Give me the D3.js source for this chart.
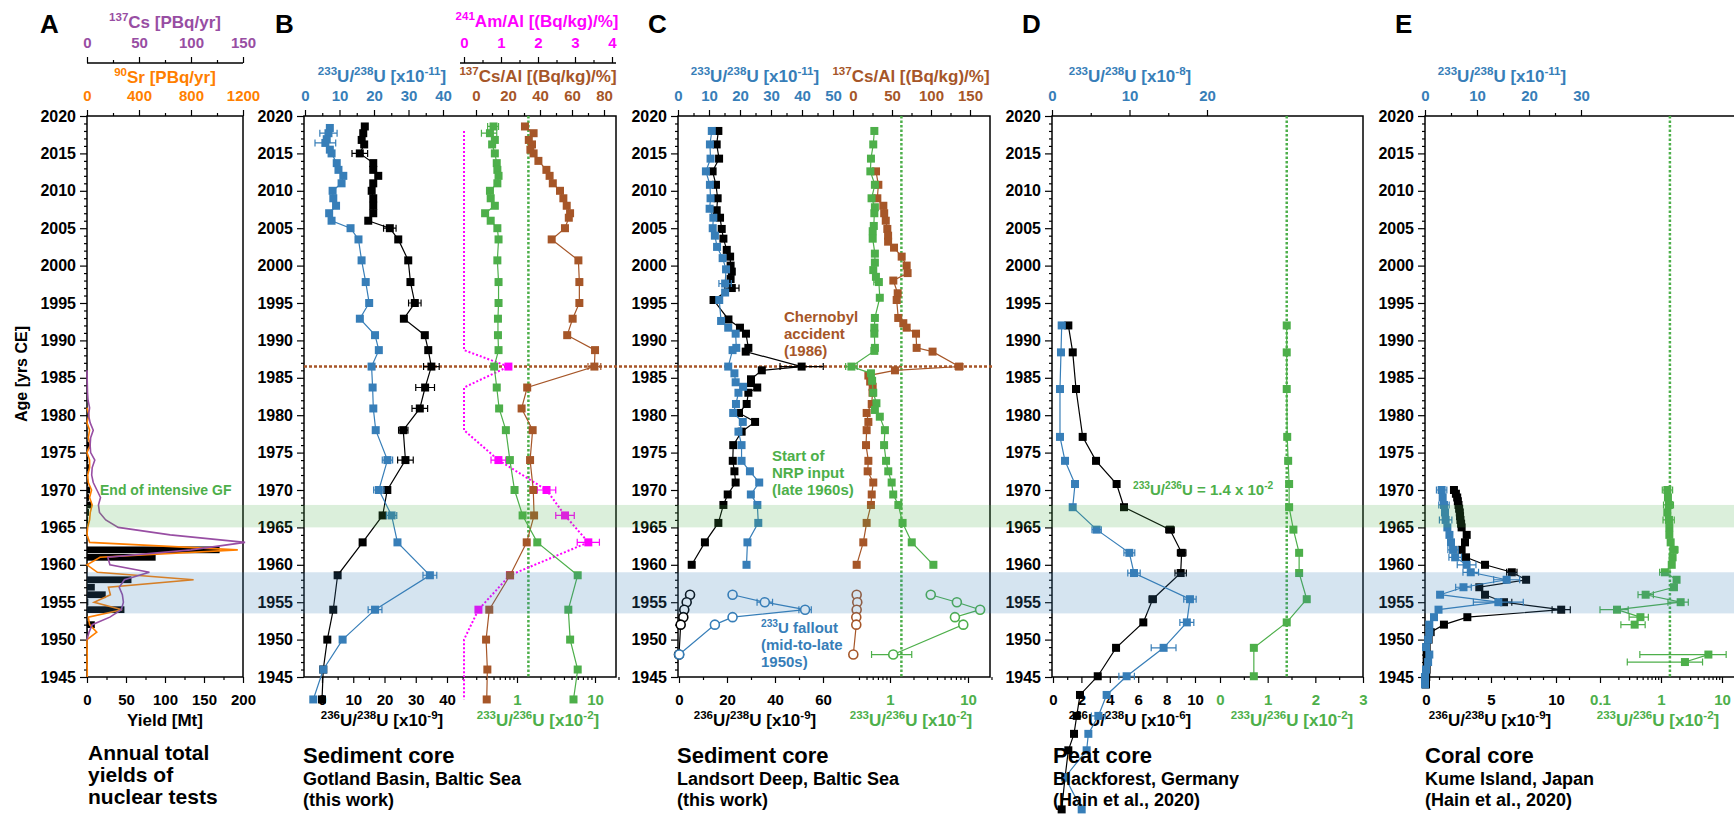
<!DOCTYPE html>
<html>
<head>
<meta charset="utf-8">
<script src="https://cdn.jsdelivr.net/npm/d3@7"></script>
<style>
  body { margin: 0; background: #fff; }
  svg { display: block; font-family: 'Liberation Sans', Arial, sans-serif; font-weight: bold; }
</style>
</head>
<body>
<svg id="chart" width="1734" height="814"></svg>
<script>
// ---- panel A: annual yields and production [year, value]
const aYield = [[1945,0.04],[1946,0.04],[1948,0.1],[1949,0.02],[1951,0.6],[1952,10],[1953,0.3],[1954,48],[1955,1.7],[1956,24],[1957,10],[1958,57],[1961,88],[1962,170],[1964,0.02],[1965,0.04],[1966,1.4],[1967,2.5],[1968,6],[1969,2.5],[1970,4],[1971,1.5],[1972,0.4],[1973,2.7],[1974,1.5],[1976,4],[1977,0.02],[1978,0.04],[1980,0.7]];
const aSr = [[1945,2],[1946,2],[1947,0],[1948,2],[1949,0],[1950,0],[1951,75],[1952,20],[1953,10],[1954,270],[1955,55],[1956,180],[1957,165],[1958,820],[1959,80],[1960,0],[1961,100],[1962,1160],[1963,20],[1964,0],[1965,5],[1966,20],[1967,25],[1968,40],[1969,20],[1970,35],[1971,10],[1972,5],[1973,20],[1974,20],[1975,0],[1976,25],[1977,10],[1978,20],[1979,0],[1980,15],[1981,0]];
const aCs = [[1950,0],[1951,2],[1952,5],[1953,22],[1954,33],[1955,35],[1956,34],[1957,31],[1958,36],[1959,60],[1960,22],[1961,20],[1962,100],[1963,152],[1964,80],[1965,30],[1966,18],[1967,12],[1968,11],[1969,13],[1970,9.5],[1971,6],[1972,4.5],[1973,5],[1974,7.5],[1975,3.5],[1976,3],[1977,3.5],[1978,6],[1979,3],[1980,1.5],[1981,2.5],[1982,1],[1983,0.5],[1986,0]];

// ---- panel B: Gotland Basin [year, value, error]
const bU236 = [[2018.6,13.7],[2017.7,13.2],[2016.8,12.7],[2016.2,13.5],[2015,12.1,2.5],[2013.7,16.4],[2012.8,16.4],[2012,18],[2011,16.4],[2010,15.9],[2009,16.4],[2008,16.4],[2007,16.4],[2006,14.8],[2005,21.7,2],[2003.5,24.4],[2000.7,27.6],[1997.8,28.3],[1995,29.7,2],[1992.9,26.2],[1990.7,32.9],[1988.7,34],[1986.5,35,2.5],[1983.7,33,3],[1980.9,31.3,2.5],[1978,26,1.5],[1974,26.7,2.5],[1970,20.9],[1966.6,19.4],[1963,13],[1958.6,5],[1954,3.6],[1950,1.7],[1946,0.4],[1942,0]];
const bU233 = [[2018.4,7.2],[2017.7,6.8,2.5],[2016.9,6.3],[2016.4,5.9,3],[2015.5,7.2],[2015,7.7],[2013.7,9.2],[2012.8,9.7],[2012,11.1],[2011,10.6],[2010,8],[2009,8.2],[2008,9],[2007,7],[2006,7.7],[2005,13.2],[2003.5,15.5],[2000.7,16.4],[1997.8,17.6],[1995,18.6],[1992.9,15.9],[1990.7,20.3],[1988.7,21.4],[1986.5,19.3],[1983.7,19.6],[1980.9,19.8],[1978,20.5],[1974,23.9,1.5],[1970,21.4,1.5],[1966.6,25.1,1.5],[1963,26.8],[1958.6,36.2,2],[1954,20.3,2],[1950,10.9],[1946,5.3],[1942,2.4]];
const bRatio = [[2018.6,0.5,0.08],[2017.7,0.45,0.1],[2016.8,0.52],[2016.2,0.48],[2015,0.52],[2013.7,0.55],[2012.8,0.56],[2012,0.58],[2011,0.56],[2010,0.45],[2009,0.46],[2008,0.52],[2007,0.39],[2006,0.46],[2005,0.56],[2003.5,0.58],[2000.7,0.56],[1997.8,0.58],[1995,0.58],[1992.9,0.57],[1990.7,0.57],[1988.7,0.58],[1986.5,0.51],[1983.7,0.55],[1980.9,0.59],[1978,0.72],[1974,0.81],[1970,0.93],[1966.6,1.18],[1963,1.82],[1958.6,6.0],[1954,4.55],[1950,4.8],[1946,6.0],[1942,5.3]];
const bCs = [[2018.6,30.6],[2017.7,36],[2016.8,33],[2016.2,35],[2015.5,34],[2015,36],[2014,39],[2012.8,44],[2012,46],[2011,48],[2010,52.5],[2009,54.6],[2008,56.7],[2007,58.8],[2006.4,58],[2005,55.6],[2003.5,47.3],[2000.7,64],[1997.8,64.6],[1995,64.6],[1992.9,60.4],[1990.7,57],[1988.7,74.4],[1986.5,74,4],[1983.7,32],[1980.9,28.5],[1978,35.4],[1974,33.8],[1970,35.8],[1966.6,36.3],[1963,31.7],[1958.6,21.3],[1954,8.3],[1950,6.3],[1946,7.1],[1942,6.7]];
const bAm = [[2018,0],[1988.7,0],[1986.5,1.2],[1983.7,0],[1978,0],[1974,0.93,0.2],[1970,2.23,0.25],[1966.6,2.73,0.25],[1963,3.36,0.3],[1958.6,1.24],[1954,0.39],[1950,0],[1942,0]];

// ---- panel C: Landsort Deep
const cU236 = [[2018,16.4],[2016.2,15.7],[2014.3,16.7],[2012.6,14],[2010.8,15.4],[2009,16.1],[2007.4,15.7],[2006.4,17.1],[2004.9,17.8],[2003.6,18.5],[2002.1,19.9],[2001.2,21.3],[2000,21.5],[1999.2,22],[1998.2,21.5],[1997,22,3],[1995.4,14.4],[1992.8,20.6],[1991.7,25.4],[1990.9,27.9],[1989,28.9],[1988.5,27.8],[1986.5,51.1,9],[1986,34.5],[1984.8,30],[1984.3,30],[1983.7,32.6],[1983,28.9],[1981.5,28.2],[1980.3,25],[1979.1,31.7],[1977.8,26.1],[1976,22.6],[1973.9,22.4],[1972.5,23.1],[1971,23.6],[1969.4,20.3],[1968,18.5],[1965.6,16.4],[1963,10.8],[1960,5.3]];
const cU236Old = [[1956,4.6],[1955,3.2],[1954,2.2],[1953,1.8],[1952,0.7],[1948,0]];
const cU233 = [[2018,10.9],[2016.2,10.3],[2014.3,10.5],[2012.6,9],[2010.8,10.3],[2009,10.5],[2007.6,10.2],[2006.4,11.4],[2005,11.2],[2004,11.9],[2002.5,12.6],[2001,14.4],[1999.5,15.5],[1997.6,15.2,2],[1996.4,15.2],[1995.4,13.3],[1992.6,13.9],[1991.7,16.2],[1990.9,18.6],[1989,18.8],[1988.7,17.6],[1986.5,16.2],[1985.6,18.2],[1984.4,18.6],[1983.8,21],[1983,19.5],[1981.5,18.7],[1980.3,17.8],[1979.1,20.9],[1977.8,19.5],[1976,20.5],[1973.9,20.5],[1972.5,23.2],[1971,26.2],[1969.4,23.5],[1968,25.6],[1965.6,25.9],[1963,22.4],[1960,22.1]];
const cU233Old = [[1956,17.6],[1955,28,2.5],[1954,41,2],[1953,17.6],[1952,11.9],[1948,0.4]];
const cCs = [[2012.6,29.5],[2010.8,32.5],[2009,31.2],[2008,38.9],[2007,40],[2006,42],[2004.9,44],[2004,45],[2003.2,45],[2002.4,52.6],[2001.2,62.4],[2000,68.8],[1999,70],[1998,51.7],[1996.3,57.3],[1995.4,56],[1993,58],[1992.3,64.5],[1991.7,68.8],[1990.9,80.8],[1989,81.6],[1988.5,102],[1986.5,136,5],[1986,53.8],[1985.3,19.7],[1984.5,22],[1983.8,25.2],[1983,25],[1981.5,24],[1980.3,17.5],[1979.1,19.7],[1978,17.5],[1976,16.7],[1973.9,19.7],[1972.5,18.8],[1971,26],[1969.4,24],[1968,23],[1965.6,17.5],[1963,13.2],[1960,4.7]];
const cCsOld = [[1956,4.7],[1955,5.5],[1954,4.7],[1953,4.2],[1952,4.2],[1948,0.4]];
const cRatio = [[2018,0.63],[2016.2,0.61],[2014.3,0.57],[2012.6,0.56],[2010.8,0.64],[2009,0.58],[2007.8,0.64],[2007,0.63],[2005.3,0.62],[2004.6,0.6],[2003.6,0.6],[2001.6,0.64],[2000.4,0.64],[1999.4,0.61],[1998.5,0.66],[1997.8,0.72,[0.62,0.76]],[1995.7,0.74],[1993,0.64],[1991.7,0.63],[1990.9,0.63],[1989,0.64],[1988.6,0.63],[1986.5,0.32,[0.27,0.38]],[1985.6,0.57],[1984.6,0.59],[1983,0.61],[1981.6,0.67],[1980.7,0.64],[1979.8,0.74],[1978,0.86],[1976,0.84],[1973.9,0.89],[1972.5,0.95],[1971,1.05],[1969.4,1.1],[1968,1.28],[1965.6,1.45],[1963,1.9],[1960,3.6]];
const cRatioOld = [[1956,3.33],[1955,7.2],[1954,14.3],[1953,6.8],[1952,8.7],[1948,1.1,[0.58,1.9]]];

// ---- panel D: peat core
const dU236 = [[1992,1.08],[1988.4,1.39],[1983.5,1.62],[1977.1,2.09],[1973.9,3.03],[1970.8,4.48],[1967.7,5.0],[1964.7,8.24,0.3],[1961.6,9.06,0.3],[1958.9,8.99,0.4],[1955.4,7.02,0.25],[1952.3,6.36],[1948.9,4.44],[1945.1,3.15],[1942.6,1.9],[1939.8,1.67],[1937.4,1.48],[1935.2,1.08],[1931.6,0.85],[1927.3,0.61]];
const dU233 = [[1992,1.25,0.4],[1988.4,1.16],[1983.5,1.03],[1977.1,1.03],[1973.9,1.68],[1970.8,2.97],[1967.7,2.67],[1964.7,5.76,0.6],[1961.6,9.98,0.7],[1958.9,10.58,0.8],[1955.4,17.8,0.8],[1952.3,17.4,0.9],[1948.9,14.4,1.6],[1945.1,9.63,1.0],[1942.6,7.05],[1939.8,5.98,0.9],[1937.4,4.69],[1935.2,4.47],[1931.6,1.68],[1927.3,3.83]];
const dRatio = [[1992,1.4],[1988.4,1.4],[1983.5,1.4],[1977.1,1.41],[1973.9,1.43],[1970.8,1.45],[1967.7,1.45],[1964.7,1.54],[1961.6,1.66],[1958.9,1.66],[1955.4,1.82],[1952.3,1.4],[1948.9,0.71],[1945.1,0.71]];

// ---- panel E: coral core
const eU236 = [[1970,2.15],[1969.5,2.3],[1969,2.4],[1968.5,2.45],[1968,2.5],[1967.5,2.55],[1967,2.6],[1966.5,2.62],[1966,2.65],[1965.5,2.7],[1965,2.74],[1964,3.13],[1963,3.0],[1962,2.74],[1961,3.08],[1960,4.54],[1959,6.6,0.4],[1958,7.7],[1957,4.1],[1956,4.54],[1955,6.0,0.6],[1954,10.4,0.7],[1953,3.18],[1952,1.38],[1951,0.36],[1950,0.2],[1949,0.05],[1948,0.05],[1947,0.05],[1946,0.05],[1945,0.02],[1944,0]];
const eU233 = [[1970,3.2,1],[1969,3.4],[1968,3.65,1],[1967,3.85],[1966,3.97,1.2],[1965,4.3],[1964,4.7],[1963,5.0],[1962,5.4,1],[1961,5.8,1.2],[1960,8.0,1.8],[1959,8.8,1.5],[1958,15.7,2.5],[1957,7.4,1.5],[1956,2.9],[1955,14.1,4.8],[1954,2.6],[1953,1.73],[1952,0.83],[1951,0.83],[1950,0.6],[1949,0.2],[1948,0.83],[1947,0.6],[1946,0.2],[1945,0],[1944,0]];
const eRatio = [[1970,1.27,[1.05,1.55]],[1969,1.3],[1968,1.35,[1.1,1.6]],[1967,1.27],[1966,1.35,[1.08,1.65]],[1965,1.37],[1964,1.37],[1963,1.44],[1962,1.63,[1.4,1.9]],[1961,1.55],[1960,1.5],[1959,1.16,[0.95,1.4]],[1958,1.8],[1957,1.63],[1956,0.56,[0.42,0.75]],[1955,2.1,[1.3,2.8]],[1954,0.19,[0.1,0.29]],[1953,0.46,[0.3,0.62]],[1952,0.37,[0.22,0.55]]];
const eRatioEarly = [[1948,5.98,[0.45,11.7]],[1947,2.47,[0.28,4.8]]];

const yearTicks = d3.range(1945, 2021, 5);
const yearMinor = d3.range(1945, 2021).filter((v) => v % 5);

const BLUE = '#377eb8', GREEN = '#4daf4a', BROWN = '#a65628', MAG = '#ff00ff';
const PURPLE = '#984ea3', ORANGE = '#ff7f00', BLACK = '#000';
const FONT = "'Liberation Sans', Arial, sans-serif";

const svg = d3.select('#chart');
const TOP = 116, BOT = 677;
const y = d3.scaleLinear().domain([1945, 2020]).range([BOT, TOP]);

// plot frames (left, right)
const fr = { A: [87, 243], B: [304, 616], C: [678, 990], D: [1052, 1363], E: [1425, 1737] };

// scales
const xYield = d3.scaleLinear().domain([0, 200]).range([87, 243]);
const xSr = d3.scaleLinear().domain([0, 1200]).range([87, 243]);
const xCsA = d3.scaleLinear().domain([0, 150]).range([87, 243]);

const xB233 = d3.scaleLinear().domain([0, 40]).range([305, 443]);
const xB236 = d3.scaleLinear().domain([0, 40]).range([322, 447]);
const xBCs = d3.scaleLinear().domain([0, 80]).range([476, 604]);
const xBAm = d3.scaleLinear().domain([0, 4]).range([464, 612]);
const xBR = d3.scaleLog().domain([1, 10]).range([517, 595]);

const xC233 = d3.scaleLinear().domain([0, 50]).range([678, 833]);
const xC236 = d3.scaleLinear().domain([0, 60]).range([679, 823]);
const xCCs = d3.scaleLinear().domain([0, 150]).range([853, 970]);
const xCR = d3.scaleLog().domain([1, 10]).range([890, 968]);

const xD233 = d3.scaleLinear().domain([0, 20]).range([1052, 1207]);
const xD236 = d3.scaleLinear().domain([0, 10]).range([1053, 1195]);
const xDR = d3.scaleLinear().domain([0, 3]).range([1220, 1363]);

const xE233 = d3.scaleLinear().domain([0, 30]).range([1425, 1581]);
const xE236 = d3.scaleLinear().domain([0, 10]).range([1426, 1556]);
const xER = d3.scaleLog().domain([1, 10]).range([1661, 1722]);

svg.append('rect').attr('width', 1734).attr('height', 814).attr('fill', '#fff');

// text with ^{..} superscripts
function rich(t, str, size) {
  const parts = str.split(/(\^\{[^}]*\})/).filter(Boolean);
  const sh = size * 0.4;
  let up = false;
  parts.forEach((p) => {
    if (p.startsWith('^{')) {
      t.append('tspan').attr('font-size', size * 0.68).attr('dy', up ? 0 : -sh).text(p.slice(2, -1));
      up = true;
    } else {
      t.append('tspan').attr('dy', up ? sh : 0).text(p);
      up = false;
    }
  });
}

function label(x, yy, str, size, color, anchor = 'start') {
  const t = svg.append('text')
    .attr('x', x).attr('y', yy)
    .attr('font-size', size)
    .attr('fill', color)
    .attr('text-anchor', anchor);
  rich(t, str, size);
  return t;
}

function hAxis(scale, pos, dir, majors, minors, color) {
  const make = dir === 'top' ? d3.axisTop : d3.axisBottom;
  const g = svg.append('g').attr('transform', `translate(0,${pos})`);
  g.append('g').call(make(scale).tickValues(minors).tickSize(3).tickFormat(''));
  const gm = g.append('g')
    .call(make(scale).tickValues(majors).tickSize(6).tickPadding(dir === 'top' ? 9 : 11).tickFormat((d) => d));
  g.selectAll('.domain').remove();
  g.selectAll('.tick line').attr('stroke', '#000').attr('stroke-width', 1.2);
  gm.attr('font-size', 15).attr('font-family', FONT);
  gm.selectAll('text').attr('fill', color).attr('font-weight', 'bold');
}

function yAxis(x) {
  const g = svg.append('g').attr('transform', `translate(${x},0)`);
  g.append('g').call(d3.axisLeft(y).tickValues(yearMinor).tickSize(3).tickFormat(''));
  const gm = g.append('g').call(d3.axisLeft(y).tickValues(yearTicks).tickSize(7).tickPadding(4).tickFormat(d3.format('d')));
  g.selectAll('.domain').remove();
  g.selectAll('.tick line').attr('stroke', '#000').attr('stroke-width', 1.2);
  gm.attr('font-size', 16).attr('font-family', FONT);
  gm.selectAll('text').attr('fill', '#000').attr('font-weight', 'bold');
}

function series(data, xs, color, o = {}) {
  const g = svg.append('g');
  const line = d3.line().x((d) => xs(d[1])).y((d) => y(d[0]));
  if (o.line !== false) {
    g.append('path').datum(data).attr('d', line)
      .attr('fill', 'none').attr('stroke', color)
      .attr('stroke-width', o.lw || 1.2)
      .attr('stroke-dasharray', o.dash || null);
  }
  data.filter((d) => d[2] != null).forEach((d) => {
    let [lo, hi] = Array.isArray(d[2]) ? d[2] : [d[1] - d[2], d[1] + d[2]];
    if (o.log) lo = Math.max(lo, 0.01);
    const yy = y(d[0]), x1 = xs(lo), x2 = xs(hi);
    g.append('path')
      .attr('d', `M${x1},${yy}H${x2}M${x1},${yy - 3.5}V${yy + 3.5}M${x2},${yy - 3.5}V${yy + 3.5}`)
      .attr('stroke', color).attr('stroke-width', 1.2).attr('fill', 'none');
  });
  const pts = o.skipZero ? data.filter((d) => d[1] > 0) : data;
  if (o.marker === 'open') {
    g.selectAll('circle').data(pts).join('circle')
      .attr('cx', (d) => xs(d[1])).attr('cy', (d) => y(d[0])).attr('r', 4.5)
      .attr('fill', '#fff').attr('stroke', color).attr('stroke-width', 1.6);
  } else if (o.marker !== 'none') {
    const s = o.size || 8;
    g.selectAll('rect').data(pts).join('rect')
      .attr('x', (d) => xs(d[1]) - s / 2).attr('y', (d) => y(d[0]) - s / 2)
      .attr('width', s).attr('height', s).attr('fill', color);
  }
}

// ---------- axes and frames
Object.values(fr).forEach(([l, r]) => {
  svg.append('rect').attr('x', l).attr('y', TOP).attr('width', r - l).attr('height', BOT - TOP)
    .attr('fill', 'none').attr('stroke', '#000').attr('stroke-width', 1.5);
  yAxis(l);
});

// A
svg.append('line').attr('x1', 87).attr('x2', 243).attr('y1', 63).attr('y2', 63).attr('stroke', '#000').attr('stroke-width', 1.5);
hAxis(xCsA, 63, 'top', [0, 50, 100, 150], [25, 75, 125], PURPLE);
hAxis(xSr, TOP, 'top', [0, 400, 800, 1200], [200, 600, 1000], ORANGE);
hAxis(xYield, BOT, 'bottom', [0, 50, 100, 150, 200], [25, 75, 125, 175], BLACK);
label(165, 28, '^{137}Cs [PBq/yr]', 17, PURPLE, 'middle');
label(165, 83, '^{90}Sr [PBq/yr]', 17, ORANGE, 'middle');
label(165, 726, 'Yield [Mt]', 17, BLACK, 'middle');

// B
svg.append('line').attr('x1', 460).attr('x2', 616).attr('y1', 63).attr('y2', 63).attr('stroke', '#000').attr('stroke-width', 1.5);
hAxis(xBAm, 63, 'top', [0, 1, 2, 3, 4], [0.5, 1.5, 2.5, 3.5], MAG);
hAxis(xB233, TOP, 'top', [0, 10, 20, 30, 40], [5, 15, 25, 35], BLUE);
hAxis(xBCs, TOP, 'top', [0, 20, 40, 60, 80], [10, 30, 50, 70], BROWN);
hAxis(xB236, BOT, 'bottom', [0, 10, 20, 30, 40], [5, 15, 25, 35, 45], BLACK);
hAxis(xBR, BOT, 'bottom', [1, 10], [0.3, 0.4, 0.5, 0.6, 0.7, 0.8, 0.9, 2, 3, 4, 5, 6, 7, 8, 9, 20], GREEN);
label(537, 27, '^{241}Am/Al [(Bq/kg)/%]', 17, MAG, 'middle');
label(382, 82, '^{233}U/^{238}U [x10^{-11}]', 17, BLUE, 'middle');
label(538, 82, '^{137}Cs/Al [(Bq/kg)/%]', 17, BROWN, 'middle');
label(382, 726, '^{236}U/^{238}U [x10^{-9}]', 17, BLACK, 'middle');
label(538, 726, '^{233}U/^{236}U [x10^{-2}]', 17, GREEN, 'middle');

// C
hAxis(xC233, TOP, 'top', [0, 10, 20, 30, 40, 50], [5, 15, 25, 35, 45], BLUE);
hAxis(xCCs, TOP, 'top', [0, 50, 100, 150], [25, 75, 125], BROWN);
hAxis(xC236, BOT, 'bottom', [0, 20, 40, 60], [10, 30, 50], BLACK);
hAxis(xCR, BOT, 'bottom', [1, 10], [0.4, 0.5, 0.6, 0.7, 0.8, 0.9, 2, 3, 4, 5, 6, 7, 8, 9, 20], GREEN);
label(755, 82, '^{233}U/^{238}U [x10^{-11}]', 17, BLUE, 'middle');
label(911, 82, '^{137}Cs/Al [(Bq/kg)/%]', 17, BROWN, 'middle');
label(755, 726, '^{236}U/^{238}U [x10^{-9}]', 17, BLACK, 'middle');
label(911, 726, '^{233}U/^{236}U [x10^{-2}]', 17, GREEN, 'middle');

// D
hAxis(xD233, TOP, 'top', [0, 10, 20], [5, 15], BLUE);
hAxis(xD236, BOT, 'bottom', [0, 2, 4, 6, 8, 10], [1, 3, 5, 7, 9], BLACK);
hAxis(xDR, BOT, 'bottom', [0, 1, 2, 3], [0.5, 1.5, 2.5], GREEN);
label(1130, 82, '^{233}U/^{238}U [x10^{-8}]', 17, BLUE, 'middle');
label(1130, 726, '^{236}U/^{238}U [x10^{-6}]', 17, BLACK, 'middle');
label(1292, 726, '^{233}U/^{236}U [x10^{-2}]', 17, GREEN, 'middle');

// E
hAxis(xE233, TOP, 'top', [0, 10, 20, 30], [5, 15, 25], BLUE);
hAxis(xE236, BOT, 'bottom', [0, 5, 10], [1, 2, 3, 4, 6, 7, 8, 9, 11], BLACK);
hAxis(xER, BOT, 'bottom', [0.1, 1, 10], [0.2, 0.3, 0.4, 0.5, 0.6, 0.7, 0.8, 0.9, 2, 3, 4, 5, 6, 7, 8, 9], GREEN);
label(1502, 82, '^{233}U/^{238}U [x10^{-11}]', 17, BLUE, 'middle');
label(1490, 726, '^{236}U/^{238}U [x10^{-9}]', 17, BLACK, 'middle');
label(1658, 726, '^{233}U/^{236}U [x10^{-2}]', 17, GREEN, 'middle');

// ---------- reference lines
svg.append('line').attr('x1', 304).attr('x2', 993).attr('y1', y(1986.5)).attr('y2', y(1986.5))
  .attr('stroke', BROWN).attr('stroke-width', 2.5).attr('stroke-dasharray', '3,2');
[xBR, xCR, xER].forEach((s) => {
  svg.append('line').attr('x1', s(1.4)).attr('x2', s(1.4)).attr('y1', TOP).attr('y2', BOT)
    .attr('stroke', GREEN).attr('stroke-width', 2.5).attr('stroke-dasharray', '2.5,2');
});
svg.append('line').attr('x1', xDR(1.4)).attr('x2', xDR(1.4)).attr('y1', TOP).attr('y2', BOT)
  .attr('stroke', GREEN).attr('stroke-width', 2.5).attr('stroke-dasharray', '2.5,2');

// ---------- panel A marks
svg.append('g').selectAll('rect').data(aYield).join('rect')
  .attr('x', xYield(0)).attr('y', (d) => y(d[0] + 0.45))
  .attr('width', (d) => xYield(d[1]) - xYield(0))
  .attr('height', (d) => y(d[0] - 0.45) - y(d[0] + 0.45))
  .attr('fill', '#000');
series(aSr, xSr, ORANGE, { marker: 'none', lw: 1.6 });
series(aCs, xCsA, PURPLE, { marker: 'none', lw: 1.6 });

// ---------- panel B marks
series(bAm, xBAm, MAG, { dash: '2,2', lw: 2, skipZero: true });
series(bCs, xBCs, BROWN);
series(bRatio, xBR, GREEN, { log: true });
series(bU236, xB236, BLACK);
series(bU233, xB233, BLUE);

// ---------- panel C marks
series(cCs, xCCs, BROWN);
series(cCsOld, xCCs, BROWN, { marker: 'open' });
series(cRatio, xCR, GREEN, { log: true });
series(cRatioOld, xCR, GREEN, { marker: 'open', log: true });
series(cU236, xC236, BLACK);
series(cU236Old, xC236, BLACK, { marker: 'open' });
series(cU233, xC233, BLUE);
series(cU233Old, xC233, BLUE, { marker: 'open' });

// ---------- panel D marks
series(dRatio, xDR, GREEN);
series(dU236, xD236, BLACK);
series(dU233, xD233, BLUE);

// ---------- panel E marks
series(eRatio, xER, GREEN, { log: true });
series(eRatioEarly, xER, GREEN, { log: true });
series(eU236, xE236, BLACK);
series(eU233, xE233, BLUE);

// ---------- shaded periods (translucent, on top)
svg.append('rect').attr('x', 87).attr('width', 1734 - 87)
  .attr('y', y(1968)).attr('height', y(1965) - y(1968))
  .attr('fill', GREEN).attr('fill-opacity', 0.2);
svg.append('rect').attr('x', 87).attr('width', 1734 - 87)
  .attr('y', y(1959)).attr('height', y(1953.5) - y(1959))
  .attr('fill', BLUE).attr('fill-opacity', 0.21);

// ---------- annotations
label(100, 495, 'End of intensive GF', 14, GREEN);
['Chernobyl', 'accident', '(1986)'].forEach((s, i) => label(784, 322 + i * 17, s, 15, BROWN));
['Start of', 'NRP input', '(late 1960s)'].forEach((s, i) => label(772, 461 + i * 17, s, 15, GREEN));
['^{233}U fallout', '(mid-to-late', '1950s)'].forEach((s, i) => label(761, 633 + i * 17, s, 15, BLUE));
label(1133, 495, '^{233}U/^{236}U = 1.4 x 10^{-2}', 15, GREEN);

svg.append('text').attr('transform', 'translate(27,374) rotate(-90)')
  .attr('text-anchor', 'middle').attr('font-size', 16).attr('fill', '#000').text('Age [yrs CE]');

// panel letters
[['A', 40], ['B', 275], ['C', 648], ['D', 1022], ['E', 1395]].forEach(([t, x]) => {
  svg.append('text').attr('x', x).attr('y', 33).attr('font-size', 26).attr('fill', '#000').text(t);
});

// panel captions
[['Annual total', 760], ['yields of', 782], ['nuclear tests', 804]].forEach(([s, yy]) => label(88, yy, s, 21, BLACK));
const captions = [
  [303, 'Sediment core', 'Gotland Basin, Baltic Sea', '(this work)'],
  [677, 'Sediment core', 'Landsort Deep, Baltic Sea', '(this work)'],
  [1053, 'Peat core', 'Blackforest, Germany', '(Hain et al., 2020)'],
  [1425, 'Coral core', 'Kume Island, Japan', '(Hain et al., 2020)'],
];
captions.forEach(([x, a, b, c]) => {
  label(x, 763, a, 22, BLACK);
  label(x, 785, b, 18, BLACK);
  label(x, 806, c, 18, BLACK);
});
</script>
</body>
</html>
